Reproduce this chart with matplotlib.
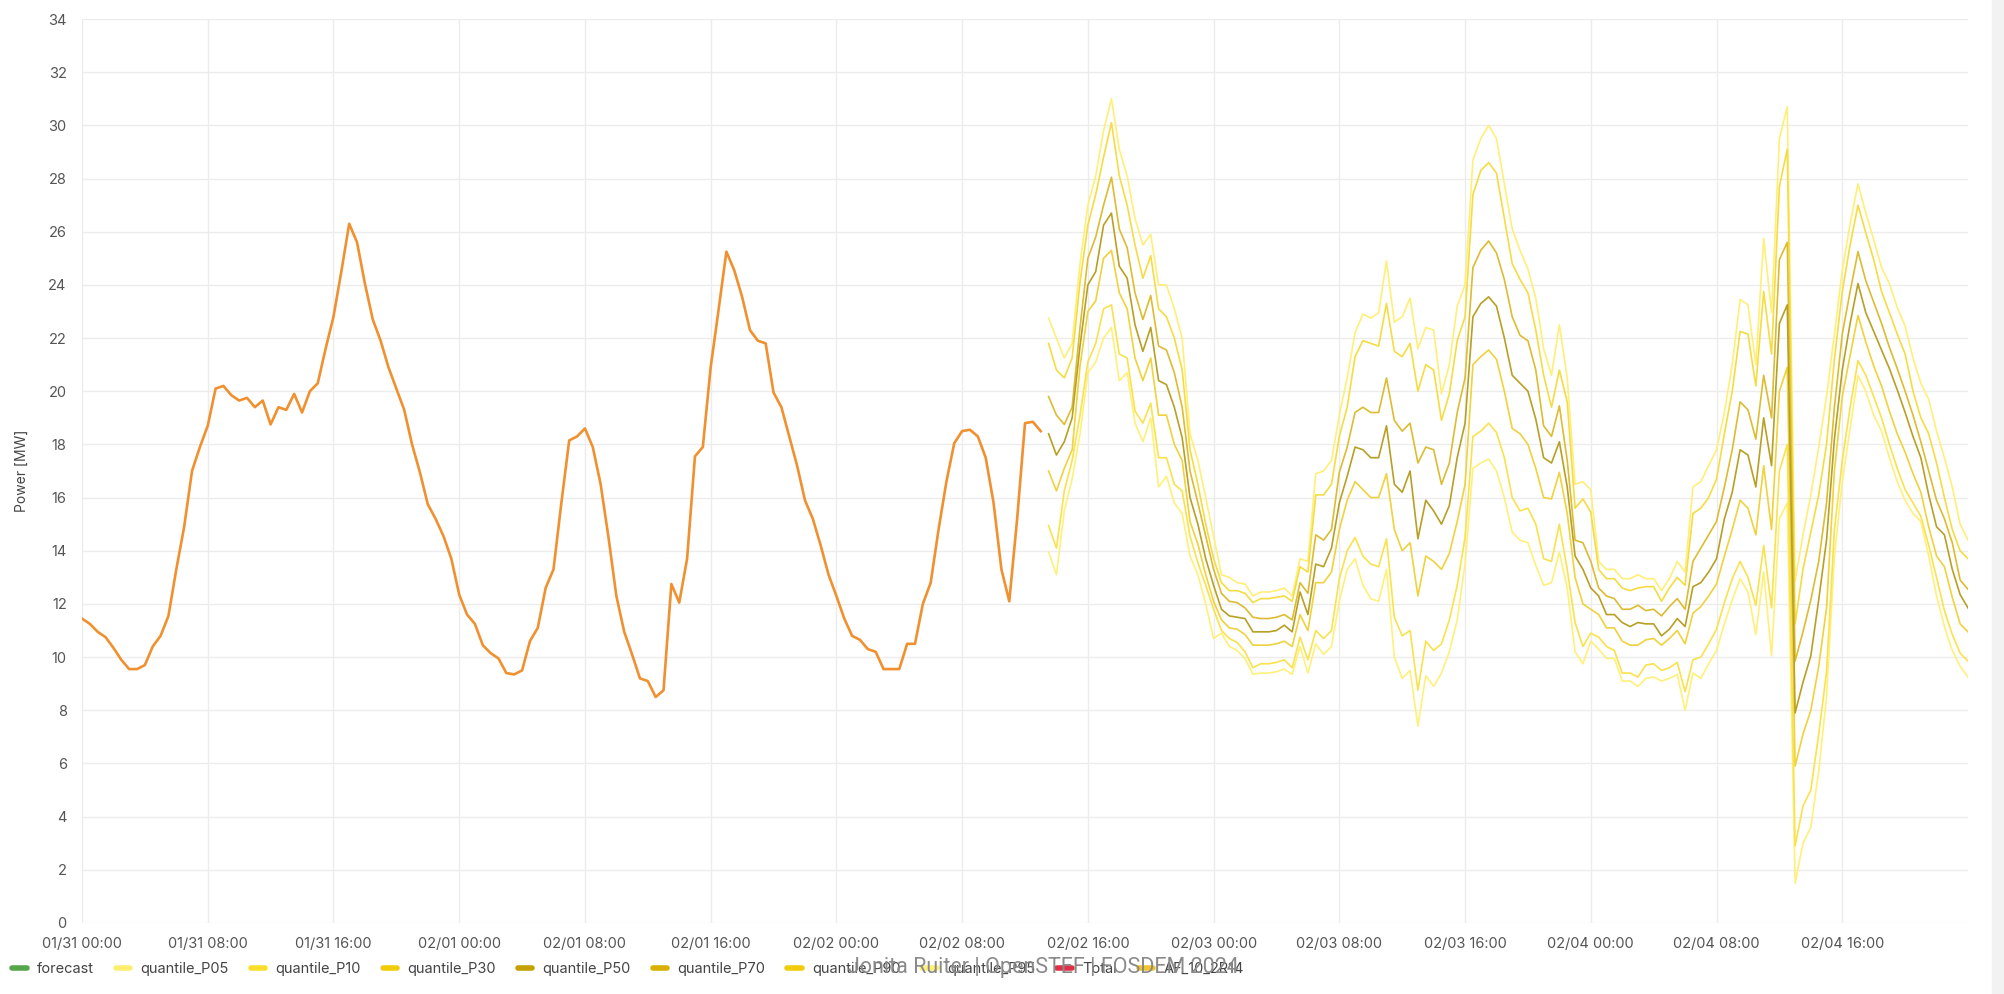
import numpy as np
import pandas as pd
import matplotlib
matplotlib.use('Agg')
import matplotlib.pyplot as plt
import matplotlib.dates as mdates
from matplotlib.lines import Line2D
from matplotlib.patches import Rectangle

plt.rcParams['font.family'] = ['Inter', 'DejaVu Sans']

# measured load, 30 min steps from 01/31 00:00
measured_start = '2024-01-31 00:00'
measured = [
    11.45, 11.25, 10.95, 10.75, 10.35, 9.9, 9.55, 9.55, 9.7, 10.4,
    10.8, 11.55, 13.3, 14.9, 17.0, 17.9, 18.7, 20.1, 20.2, 19.85,
    19.65, 19.75, 19.4, 19.65, 18.75, 19.4, 19.3, 19.9, 19.2, 20.0,
    20.3, 21.6, 22.8, 24.5, 26.3, 25.6, 24.05, 22.7, 21.9, 20.9,
    20.1, 19.3, 18.0, 16.95, 15.75, 15.2, 14.55, 13.7, 12.35, 11.6,
    11.25, 10.45, 10.15, 9.95, 9.4, 9.35, 9.5, 10.6, 11.1, 12.6,
    13.3, 15.8, 18.15, 18.3, 18.6, 17.9, 16.5, 14.5, 12.3, 10.95,
    10.1, 9.2, 9.1, 8.5, 8.75, 12.75, 12.05, 13.7, 17.55, 17.9,
    20.9, 23.05, 25.25, 24.55, 23.55, 22.3, 21.9, 21.8, 19.95, 19.4,
    18.3, 17.2, 15.9, 15.2, 14.2, 13.1, 12.3, 11.45, 10.8, 10.65,
    10.3, 10.2, 9.55, 9.55, 9.55, 10.5, 10.5, 12.0, 12.8, 14.8,
    16.6, 18.05, 18.5, 18.55, 18.3, 17.5, 15.8, 13.3, 12.1, 15.2,
    18.8, 18.85, 18.5,
]

# forecast quantiles, 30 min steps from 02/02 13:30
quantile_start = '2024-02-02 13:30'
p95 = [
    22.75, 22.0, 21.25, 21.8, 24.8, 27.0, 28.1, 29.8, 31.0, 29.1,
    28.1, 26.5, 25.5, 25.9, 24.0, 24.0, 23.1, 22.0, 18.4, 17.4,
    16.0, 14.55, 13.1, 13.0, 12.8, 12.75, 12.3, 12.45, 12.45, 12.5,
    12.6, 12.3, 13.7, 13.6, 16.9, 17.0, 17.4, 19.1, 20.5, 22.2,
    22.9, 22.75, 22.95, 24.9, 22.6, 22.8, 23.5, 21.6, 22.4, 22.3,
    19.9, 21.0, 23.2, 24.0, 28.7, 29.5, 30.0, 29.5, 27.8, 26.1,
    25.3, 24.6, 23.5, 21.6, 20.6, 22.5, 20.5, 16.5, 16.6, 16.3,
    13.6, 13.3, 13.3, 12.95, 12.95, 13.1, 12.95, 12.95, 12.5, 12.95,
    13.6, 13.2, 16.4, 16.6, 17.2, 17.8, 19.2, 21.0, 23.45, 23.25,
    21.0, 25.75, 22.95, 29.5, 30.7, 12.85, 14.6, 16.1, 17.9, 19.8,
    22.15, 24.55, 26.3, 27.8, 26.7, 25.7, 24.65, 24.05, 23.15, 22.45,
    21.25, 20.3, 19.7, 18.5, 17.5, 16.4, 15.0, 14.4,
]
p90 = [
    21.8, 20.8, 20.5, 21.25, 24.1, 26.25, 27.4, 28.8, 30.1, 28.1,
    27.0, 25.5, 24.25, 25.1, 23.1, 22.8, 22.0, 20.8, 17.8, 16.5,
    15.0, 13.7, 12.8, 12.5, 12.5, 12.4, 12.05, 12.2, 12.2, 12.25,
    12.3, 12.1, 13.4, 13.2, 16.1, 16.1, 16.5, 18.3, 19.4, 21.3,
    21.9, 21.8, 21.7, 23.3, 21.5, 21.3, 21.8, 20.0, 21.0, 20.8,
    18.9, 19.9, 21.9, 22.8, 27.4, 28.3, 28.6, 28.2, 26.5, 24.8,
    24.2, 23.7, 22.3, 20.6, 19.4, 20.8, 19.6, 15.6, 15.95, 15.45,
    13.3, 12.95, 12.95, 12.6, 12.5, 12.6, 12.65, 12.65, 12.1, 12.6,
    13.0, 12.7, 15.4, 15.6, 16.0, 16.7, 18.4, 20.0, 22.25, 22.15,
    20.2, 23.75, 21.4, 27.7, 29.1, 11.25, 13.3, 14.7, 16.1, 18.0,
    21.2, 23.75, 25.5, 27.0, 25.95, 24.95, 23.75, 22.95, 22.15, 21.4,
    20.0, 19.0, 18.4, 17.3, 16.0, 14.8, 14.0, 13.7,
]
p70 = [
    19.8, 19.1, 18.75, 19.4, 22.4, 25.0, 25.8, 27.0, 28.05, 26.1,
    25.4, 23.7, 22.7, 23.6, 21.7, 21.55, 20.7, 19.4, 17.0, 15.8,
    14.55, 13.3, 12.4, 12.1, 12.05, 11.85, 11.5, 11.45, 11.45, 11.5,
    11.6, 11.4, 12.8, 12.4, 14.6, 14.4, 14.8, 16.95, 17.9, 19.2,
    19.4, 19.2, 19.2, 20.5, 18.9, 18.5, 18.8, 17.3, 17.9, 17.8,
    16.5, 17.3, 19.2, 20.5, 24.65, 25.3, 25.65, 25.2, 24.2, 22.8,
    22.1, 21.9, 20.8, 18.7, 18.3, 19.45, 17.4, 14.4, 14.3, 13.6,
    12.6, 12.3, 12.2, 11.8, 11.8, 11.95, 11.75, 11.8, 11.55, 11.9,
    12.2, 11.8, 13.6, 14.1, 14.6, 15.1, 16.4, 17.8, 19.6, 19.3,
    18.2, 20.6, 19.0, 24.95, 25.6, 9.85, 10.95, 12.15, 13.6, 15.8,
    19.4, 22.15, 23.75, 25.25, 24.15, 23.35, 22.55, 21.65, 20.85, 20.0,
    19.1, 18.1, 17.0, 15.9, 15.2, 14.3, 12.9, 12.55,
]
p50 = [
    18.4, 17.6, 18.1, 19.0, 21.7, 24.0, 24.5, 26.25, 26.7, 24.7,
    24.25, 22.5, 21.5, 22.4, 20.4, 20.25, 19.4, 18.25, 16.0, 15.0,
    13.7, 12.7, 11.8, 11.55, 11.5, 11.45, 10.95, 10.95, 10.95, 11.0,
    11.2, 10.95, 12.45, 11.6, 13.5, 13.4, 14.1, 15.8, 16.8, 17.9,
    17.8, 17.5, 17.5, 18.7, 16.5, 16.2, 17.0, 14.45, 15.9, 15.5,
    15.0, 15.7, 17.5, 18.8, 22.8, 23.3, 23.55, 23.2, 22.0, 20.6,
    20.3, 20.0, 18.95, 17.5, 17.3, 18.1, 16.4, 13.8, 13.3, 12.6,
    12.3, 11.6, 11.6, 11.3, 11.15, 11.3, 11.25, 11.25, 10.8, 11.05,
    11.45, 11.15, 12.65, 12.8, 13.2, 13.7, 15.2, 16.2, 17.8, 17.6,
    16.4, 19.0, 17.2, 22.55, 23.25, 7.9, 9.05, 10.05, 12.15, 14.4,
    18.2, 20.8, 22.55, 24.05, 22.95, 22.25, 21.55, 20.85, 20.05, 19.2,
    18.3, 17.5, 16.1, 14.9, 14.6, 13.3, 12.35, 11.85,
]
p30 = [
    17.0, 16.25, 17.1, 17.8, 20.95, 23.0, 23.4, 25.0, 25.3, 23.7,
    23.1, 21.25, 20.4, 21.25, 19.1, 19.1, 18.0, 17.4, 15.1, 14.25,
    13.1, 12.1, 11.4, 11.1, 11.05, 10.85, 10.45, 10.45, 10.45, 10.5,
    10.6, 10.4, 11.6, 11.0, 12.8, 12.8, 13.2, 14.8, 15.9, 16.6,
    16.3, 16.0, 16.0, 16.9, 14.8, 14.0, 14.3, 12.3, 13.8, 13.6,
    13.3, 13.9, 15.1, 16.5, 21.0, 21.3, 21.55, 21.2, 20.0, 18.6,
    18.4, 18.0, 17.1, 16.0, 15.95, 16.95, 15.4, 13.0, 12.0, 11.8,
    11.6, 11.1, 11.1, 10.6, 10.45, 10.45, 10.65, 10.7, 10.45, 10.7,
    11.0, 10.5, 11.65, 11.9, 12.3, 12.75, 13.8, 14.8, 15.9, 15.6,
    14.6, 17.2, 14.8, 20.0, 20.9, 5.9, 7.1, 8.0, 9.65, 11.85,
    17.0, 19.8, 21.35, 22.85, 21.85, 20.95, 20.2, 19.25, 18.4, 17.7,
    16.9, 16.2, 14.9, 13.8, 13.4, 12.25, 11.25, 10.95,
]
p10 = [
    14.95, 14.1, 16.25, 17.4, 19.1, 21.1, 21.8, 23.1, 23.25, 21.4,
    21.25, 19.25, 18.8, 19.55, 17.5, 17.5, 16.5, 16.25, 14.55, 13.55,
    12.7, 11.8, 11.0, 10.7, 10.55, 10.2, 9.6, 9.75, 9.75, 9.8,
    9.9, 9.6, 10.75, 9.9, 11.0, 10.7, 11.0, 12.95, 14.0, 14.5,
    13.8, 13.5, 13.4, 14.45, 11.5, 10.8, 11.0, 8.75, 10.6, 10.25,
    10.5, 11.4, 12.7, 14.5, 18.3, 18.5, 18.8, 18.45, 17.5, 16.0,
    15.5, 15.6, 15.0, 13.7, 13.6, 15.0, 13.3, 11.3, 10.4, 10.9,
    10.75, 10.4, 10.25, 9.4, 9.4, 9.25, 9.7, 9.75, 9.5, 9.6,
    9.8, 8.7, 9.9, 10.0, 10.5, 11.05, 12.05, 12.95, 13.6, 13.0,
    11.95, 14.2, 11.85, 17.0, 18.0, 2.9, 4.4, 5.0, 7.1, 9.45,
    14.8, 17.4, 19.4, 21.15, 20.6, 19.8, 19.0, 18.0, 17.1, 16.3,
    15.8, 15.3, 14.2, 13.0, 11.75, 10.85, 10.15, 9.85,
]
p05 = [
    13.95, 13.1, 15.5, 16.7, 18.4, 20.7, 21.1, 22.0, 22.4, 20.4,
    20.7, 18.8, 18.1, 19.0, 16.4, 16.8, 15.8, 15.4, 13.8, 13.1,
    12.0, 10.7, 10.9, 10.4, 10.25, 9.95, 9.35, 9.4, 9.4, 9.45,
    9.55, 9.35, 10.4, 9.4, 10.5, 10.1, 10.4, 12.1, 13.3, 13.7,
    12.7, 12.2, 12.1, 13.3, 10.0, 9.2, 9.5, 7.4, 9.3, 8.9,
    9.4, 10.2, 11.4, 13.5, 17.1, 17.3, 17.45, 17.0, 16.0, 14.7,
    14.4, 14.3, 13.45, 12.7, 12.8, 13.95, 12.6, 10.2, 9.75, 10.6,
    10.3, 9.95, 9.95, 9.1, 9.1, 8.9, 9.2, 9.25, 9.1, 9.2,
    9.35, 8.0, 9.4, 9.2, 9.75, 10.25, 11.25, 12.15, 12.95, 12.45,
    10.85, 13.2, 10.05, 15.2, 15.8, 1.5, 3.0, 3.6, 5.7, 8.5,
    13.8, 16.6, 18.6, 20.6, 20.0, 19.1, 18.5, 17.5, 16.6, 15.9,
    15.4, 15.1, 13.8, 12.3, 11.15, 10.25, 9.65, 9.25,
]

legend_labels = ['forecast', 'quantile_P05', 'quantile_P10', 'quantile_P30',
                 'quantile_P50', 'quantile_P70', 'quantile_P90', 'quantile_P95',
                 'Total', 'AF_10_2R14']
legend_colors = ['#56A64B', '#FFEE70', '#FADE2A', '#F2CC0C', '#C4A000',
                 '#D9B000', '#F2CC0C', '#FFF27A', '#E02F44', '#F2C42C']

quantiles = [
    (p05, '#FFF07A'), (p95, '#FFEF78'),
    (p10, '#F9E24C'), (p90, '#F5DC42'),
    (p30, '#EFD23C'), (p70, '#DCBC30'),
    (p50, '#B8A024'),
]

fig = plt.figure(figsize=(20.04, 9.94), dpi=100)
ax = fig.add_axes([82 / 2004, 1 - 923 / 994, (1968 - 82) / 2004, (923 - 19) / 994])

t_meas = pd.date_range(measured_start, periods=len(measured), freq='30min')
ax.plot(t_meas, measured, color='#F0902F', lw=1.9, zorder=4)

for vals, col in quantiles:
    t_q = pd.date_range(quantile_start, periods=len(vals), freq='30min')
    ax.plot(t_q, vals, color=col, lw=1.2, zorder=3)

ax.set_xlim(pd.Timestamp('2024-01-31 00:00'), pd.Timestamp('2024-02-05 00:00'))
ax.set_ylim(0, 34)
ax.set_yticks(np.arange(0, 35, 2))
ax.set_xticks(pd.date_range('2024-01-31 00:00', '2024-02-04 16:00', freq='8h'))
ax.xaxis.set_major_formatter(mdates.DateFormatter('%m/%d %H:%M'))

ax.grid(True, color='#ececec', lw=1.0, zorder=0)
for s in ax.spines.values():
    s.set_visible(False)
ax.tick_params(length=0, labelsize=10.5, labelcolor='#555555')
ax.tick_params(axis='y', pad=11)
ax.tick_params(axis='x', pad=10)
ax.set_ylabel('Power [MW]', fontsize=10, color='#444444', labelpad=14)

handles = [Line2D([], [], color=c, lw=4, solid_capstyle='round') for c in legend_colors]
fig.legend(handles, legend_labels, loc='center left',
           bbox_to_anchor=(12 / 2004, 1 - 969 / 994), ncol=len(legend_labels),
           frameon=False, fontsize=10.5, labelcolor='#444444',
           handlelength=1.0, handletextpad=0.7, columnspacing=1.5,
           borderpad=0, borderaxespad=0)

fig.text(1043 / 2004, 1 - 968 / 994, 'Jonita Ruiter | OpenSTEF | FOSDEM 2024',
         ha='center', va='center', fontsize=15.5, color='#8a8a8a',
         family=['Roboto', 'DejaVu Sans'], zorder=10)

fig.patches.append(Rectangle((1992 / 2004, 0.0), 12 / 2004, 1.0,
                             transform=fig.transFigure, color='#f2f2f2', zorder=0))

fig.savefig('out.png', dpi=100)
